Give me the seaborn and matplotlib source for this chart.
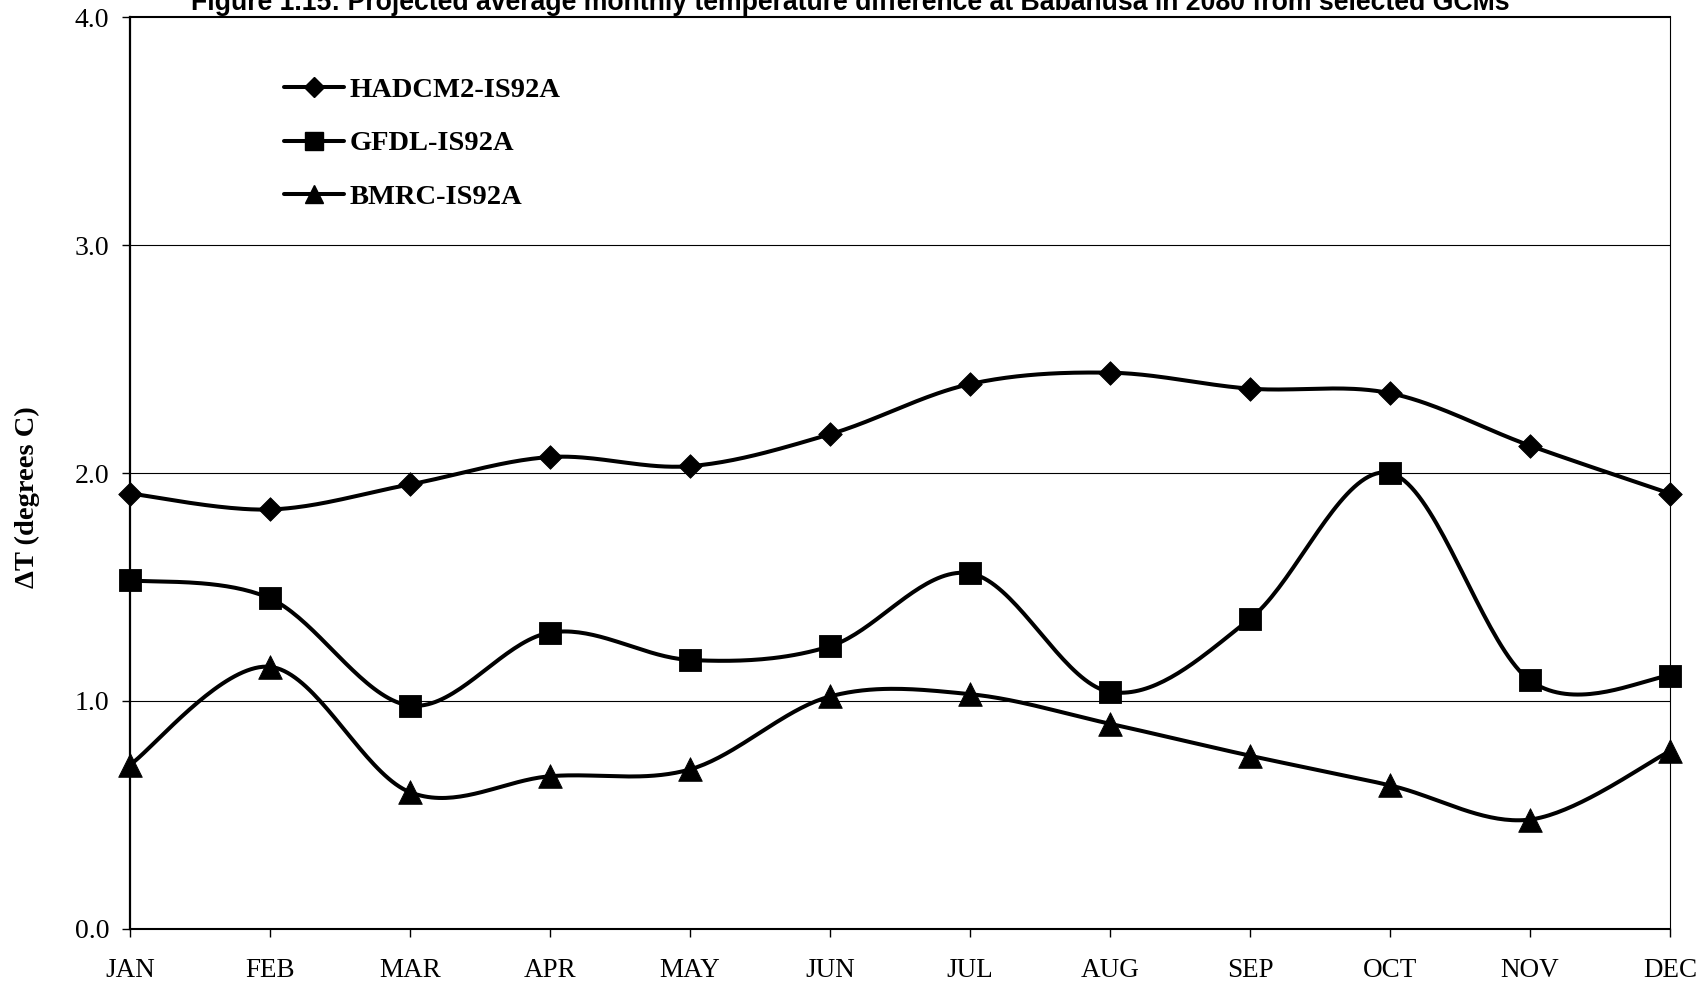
import numpy as np
import pandas as pd
import matplotlib
matplotlib.use("Agg")
import matplotlib.pyplot as plt
from matplotlib.lines import Line2D
import seaborn as sns

# Monthly projected temperature change (degrees C) for each GCM
months = ["JAN", "FEB", "MAR", "APR", "MAY", "JUN",
          "JUL", "AUG", "SEP", "OCT", "NOV", "DEC"]
hadcm2 = [1.91, 1.84, 1.95, 2.07, 2.03, 2.17, 2.39, 2.44, 2.37, 2.35, 2.12, 1.91]
gfdl = [1.53, 1.45, 0.98, 1.30, 1.18, 1.24, 1.56, 1.04, 1.36, 2.00, 1.09, 1.11]
bmrc = [0.72, 1.15, 0.60, 0.67, 0.70, 1.02, 1.03, 0.90, 0.76, 0.63, 0.48, 0.78]
series_names = ["HADCM2-IS92A", "GFDL-IS92A", "BMRC-IS92A"]
y_ticks = [0.0, 1.0, 2.0, 3.0, 4.0]

sns.set_theme(style="white")
plt.rcParams["font.family"] = ["Liberation Serif", "DejaVu Serif"]

series = dict(zip(series_names, [hadcm2, gfdl, bmrc]))
markers = {"HADCM2-IS92A": ("D", 12), "GFDL-IS92A": ("s", 16), "BMRC-IS92A": ("^", 17)}
legend_ms = {"HADCM2-IS92A": 10, "GFDL-IS92A": 12.5, "BMRC-IS92A": 13.5}
line_w = 2.9


def smooth_curve(xv, yv, steps=40):
    """Cubic Bezier smoothing through every point (Catmull-Rom control points)."""
    p = np.column_stack([xv, yv]).astype(float)
    ext = np.vstack([p[0], p, p[-1]])
    t = np.linspace(0, 1, steps)[:, None]
    out = []
    for i in range(len(p) - 1):
        p0, p1, p2, p3 = ext[i], ext[i + 1], ext[i + 2], ext[i + 3]
        b1 = p1 + (p2 - p0) / 6.0
        b2 = p2 - (p3 - p1) / 6.0
        seg = ((1 - t) ** 3) * p1 + 3 * ((1 - t) ** 2) * t * b1 + 3 * (1 - t) * t ** 2 * b2 + t ** 3 * p2
        out.append(seg if i == 0 else seg[1:])
    return np.vstack(out)


x_idx = np.arange(len(months))
curve_rows = []
point_rows = []
for name, vals in series.items():
    c = smooth_curve(x_idx, vals)
    for order, (cx, cy) in enumerate(c):
        curve_rows.append({"model": name, "x": cx, "y": cy, "order": order})
    for xi, v in zip(x_idx, vals):
        point_rows.append({"model": name, "x": xi, "y": v})
curves = pd.DataFrame(curve_rows)
points = pd.DataFrame(point_rows)

fig = plt.figure(figsize=(17.01, 9.83), dpi=100)
ax = fig.add_axes([130 / 1701, (983 - 929) / 983, 1540 / 1701, 912 / 983])

sns.lineplot(data=curves, x="x", y="y", hue="model", units="model", estimator=None,
             sort=False, palette={n: "black" for n in series_names}, linewidth=line_w,
             legend=False, ax=ax, zorder=3)
for ln in ax.lines:
    ln.set_clip_on(False)

for name in series_names:
    mk, ms = markers[name]
    sns.scatterplot(data=points[points["model"] == name], x="x", y="y", marker=mk,
                    s=ms ** 2, color="black", edgecolor="black", linewidth=0.6,
                    legend=False, ax=ax, zorder=4, clip_on=False)

ax.set_xlim(0, 11)
ax.set_ylim(0, 4)
ax.set_xticks(x_idx)
ax.set_xticklabels(months)
ax.set_yticks(y_ticks)
ax.set_yticklabels([f"{v:.1f}" for v in y_ticks])
ax.tick_params(axis="x", direction="out", length=6, width=1, color="black",
               labelsize=19.5, pad=15, labelcolor="black", bottom=True)
ax.tick_params(axis="y", direction="out", length=6, width=1, color="black",
               labelsize=20, pad=9, labelcolor="black", left=True)

ax.grid(False)
for v in y_ticks[1:-1]:
    ax.axhline(v, color="black", linewidth=0.8, zorder=1)

for side, lw in [("left", 1.6), ("bottom", 1.5), ("top", 1.5), ("right", 0.8)]:
    ax.spines[side].set_visible(True)
    ax.spines[side].set_color("black")
    ax.spines[side].set_linewidth(lw)

ax.set_xlabel("")
ax.set_ylabel("ΔT (degrees C)", fontsize=20.5, fontweight="bold", color="black")
ax.yaxis.label.set_verticalalignment("center")
ax.yaxis.set_label_coords((27 - 130) / 1540, (929 - 497) / 912)

handles = []
for name in series_names:
    mk, _ = markers[name]
    handles.append(Line2D([], [], color="black", linewidth=line_w, marker=mk,
                          markersize=legend_ms[name], markerfacecolor="black",
                          markeredgecolor="black"))
leg = ax.legend(handles, series_names, loc="upper left",
                bbox_to_anchor=(284 / 1701, (983 - 77) / 983),
                bbox_transform=fig.transFigure, frameon=False, borderpad=0,
                borderaxespad=0, handlelength=2.1, handletextpad=0.2,
                labelspacing=0.97, prop={"family": "Liberation Serif", "weight": "bold", "size": 20.5})
for t in leg.get_texts():
    t.set_color("black")

fig.text(0.5, (983 - 9.5) / 983,
         "Figure 1.15: Projected average monthly temperature difference at Babanusa in 2080 from selected GCMs",
         ha="center", va="baseline", fontsize=19.2, fontweight="bold",
         family=["Liberation Sans", "DejaVu Sans"], color="black")

fig.savefig("out.png", dpi=100, facecolor="white")
